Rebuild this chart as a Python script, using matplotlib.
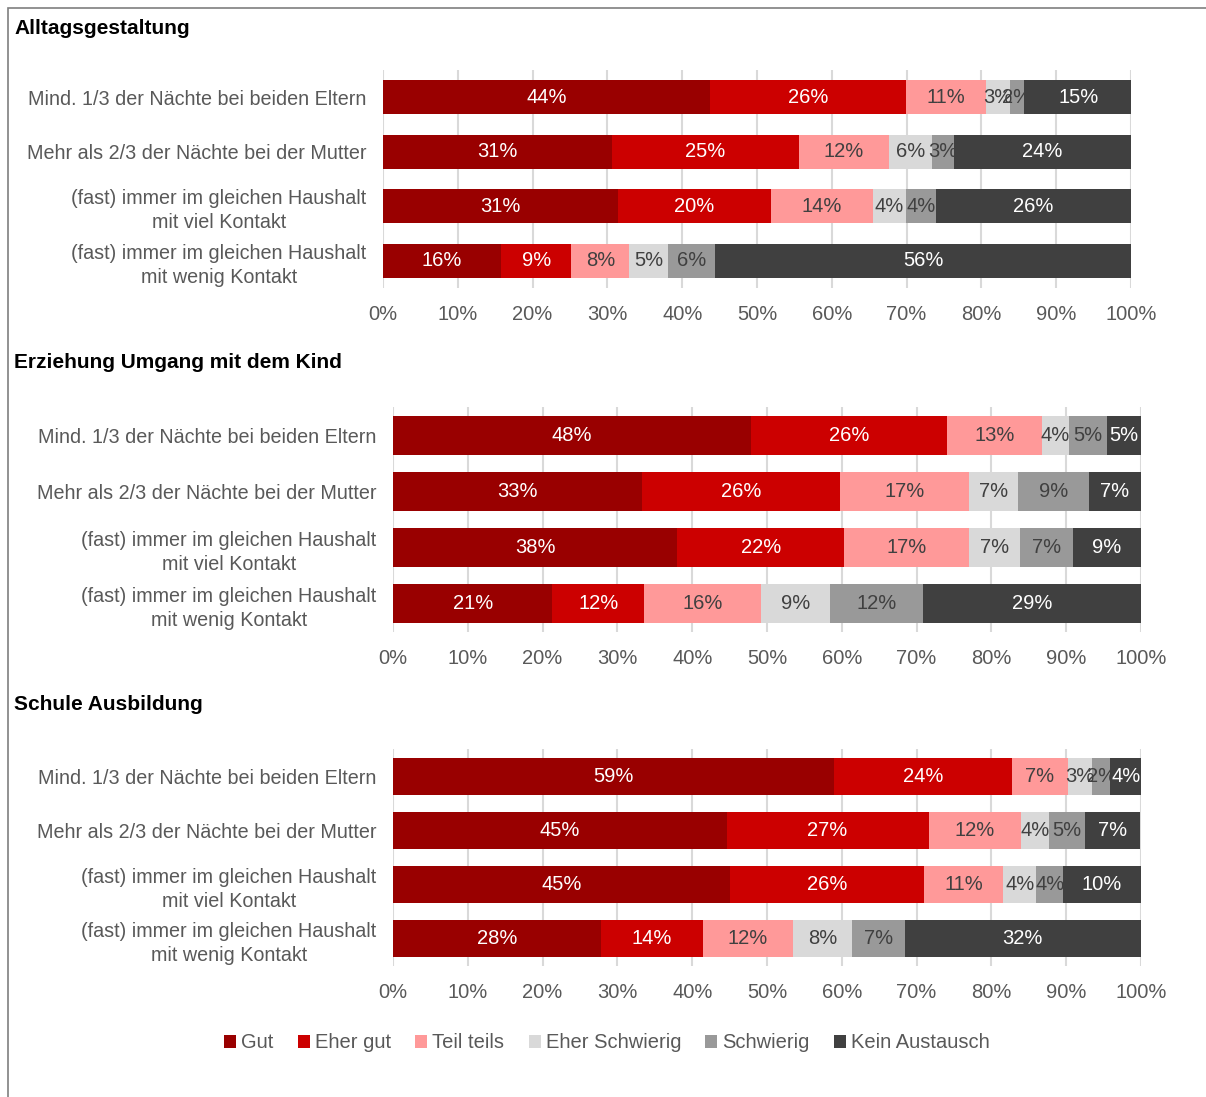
import matplotlib.pyplot as plt
from matplotlib.patches import Rectangle

plt.rcParams['font.family'] = ['Liberation Sans', 'DejaVu Sans']

categories = ['Mind. 1/3 der Nächte bei beiden Eltern',
              'Mehr als 2/3 der Nächte bei der Mutter',
              '(fast) immer im gleichen Haushalt\nmit viel Kontakt',
              '(fast) immer im gleichen Haushalt\nmit wenig Kontakt']
series = ['Gut', 'Eher gut', 'Teil teils', 'Eher Schwierig', 'Schwierig', 'Kein Austausch']
colors = ['#990000', '#cc0000', '#ff9999', '#d9d9d9', '#999999', '#404040']
label_colors = ['white', 'white', '#404040', '#404040', '#404040', 'white']
titles = ['Alltagsgestaltung', 'Erziehung Umgang mit dem Kind', 'Schule Ausbildung']

# one row per category, columns follow the series order
alltag = [[43.7, 26.2, 10.7, 3.2, 1.9, 14.6],
          [30.6, 25.0, 12.0, 5.8, 2.9, 23.7],
          [31.4, 20.5, 13.6, 4.4, 4.0, 26.1],
          [15.8, 9.4, 7.7, 5.2, 6.3, 55.6]]
erziehung = [[47.9, 26.2, 12.6, 3.7, 5.0, 4.7],
             [33.3, 26.5, 17.2, 6.6, 9.4, 7.0],
             [38.0, 22.3, 16.7, 6.8, 7.1, 9.1],
             [21.3, 12.3, 15.6, 9.2, 12.4, 29.2]]
schule = [[59.0, 23.8, 7.4, 3.3, 2.4, 4.1],
          [44.6, 27.0, 12.4, 3.7, 4.8, 7.4],
          [45.1, 25.9, 10.6, 4.4, 3.6, 10.4],
          [27.8, 13.6, 12.1, 7.9, 7.0, 31.6]]
panels = [alltag, erziehung, schule]

W, H = 1206, 1097
fig = plt.figure(figsize=(W / 100, H / 100), dpi=100)

# outer border (left and top visible)
fig.patches.append(Rectangle((8 / W, -0.1), 1.2, (H - 8) / H + 0.1, transform=fig.transFigure,
                             fill=False, edgecolor='#7f7f7f', linewidth=1.2))

# axes boxes in pixels: left, top, right, bottom, bar height, title y
boxes = [(383, 70, 1131, 288, 0.63, 28),
         (393, 407, 1141, 632, 0.69, 362),
         (393, 749, 1141, 966, 0.68, 705)]

for data, title, (l, t, r, b, bh, ty) in zip(panels, titles, boxes):
    ax = fig.add_axes([l / W, 1 - b / H, (r - l) / W, (b - t) / H])
    y = list(range(len(categories)))
    left = [0] * len(categories)
    for j, name in enumerate(series):
        vals = [row[j] for row in data]
        ax.barh(y, vals, left=left, height=bh, color=colors[j], label=name,
                edgecolor='none', zorder=2)
        for yi, v, lf in zip(y, vals, left):
            ax.text(lf + v / 2, yi, f'{v:.0f}%', ha='center', va='center',
                    color=label_colors[j], fontsize=14.5, zorder=3)
        left = [a + v for a, v in zip(left, vals)]
    ax.set_xlim(0, 100)
    ax.set_ylim(len(categories) - 0.5, -0.5)
    ax.set_xticks(range(0, 101, 10))
    ax.set_xticklabels([f'{v}%' for v in range(0, 101, 10)], fontsize=14.5)
    ax.set_yticks(y)
    ax.set_yticklabels(categories, multialignment='center', linespacing=1.35, fontsize=14.2)
    ax.tick_params(axis='both', length=0, colors='#595959')
    ax.tick_params(axis='y', pad=12)
    ax.tick_params(axis='x', pad=12)
    ax.grid(axis='x', color='#d9d9d9', linewidth=1.5, zorder=0)
    for s in ax.spines.values():
        s.set_visible(False)
    fig.text(14 / W, 1 - ty / H, title, fontsize=15, fontweight='bold',
             ha='left', va='center', color='black')

handles, labels = ax.get_legend_handles_labels()
fig.legend(handles, labels, loc='center', bbox_to_anchor=(607 / W, 1 - 1043 / H), ncol=6,
           frameon=False, fontsize=14.5, handlelength=0.6, handleheight=0.6,
           handletextpad=0.25, columnspacing=1.2, labelcolor='#595959')

fig.savefig('out.png', dpi=100)
